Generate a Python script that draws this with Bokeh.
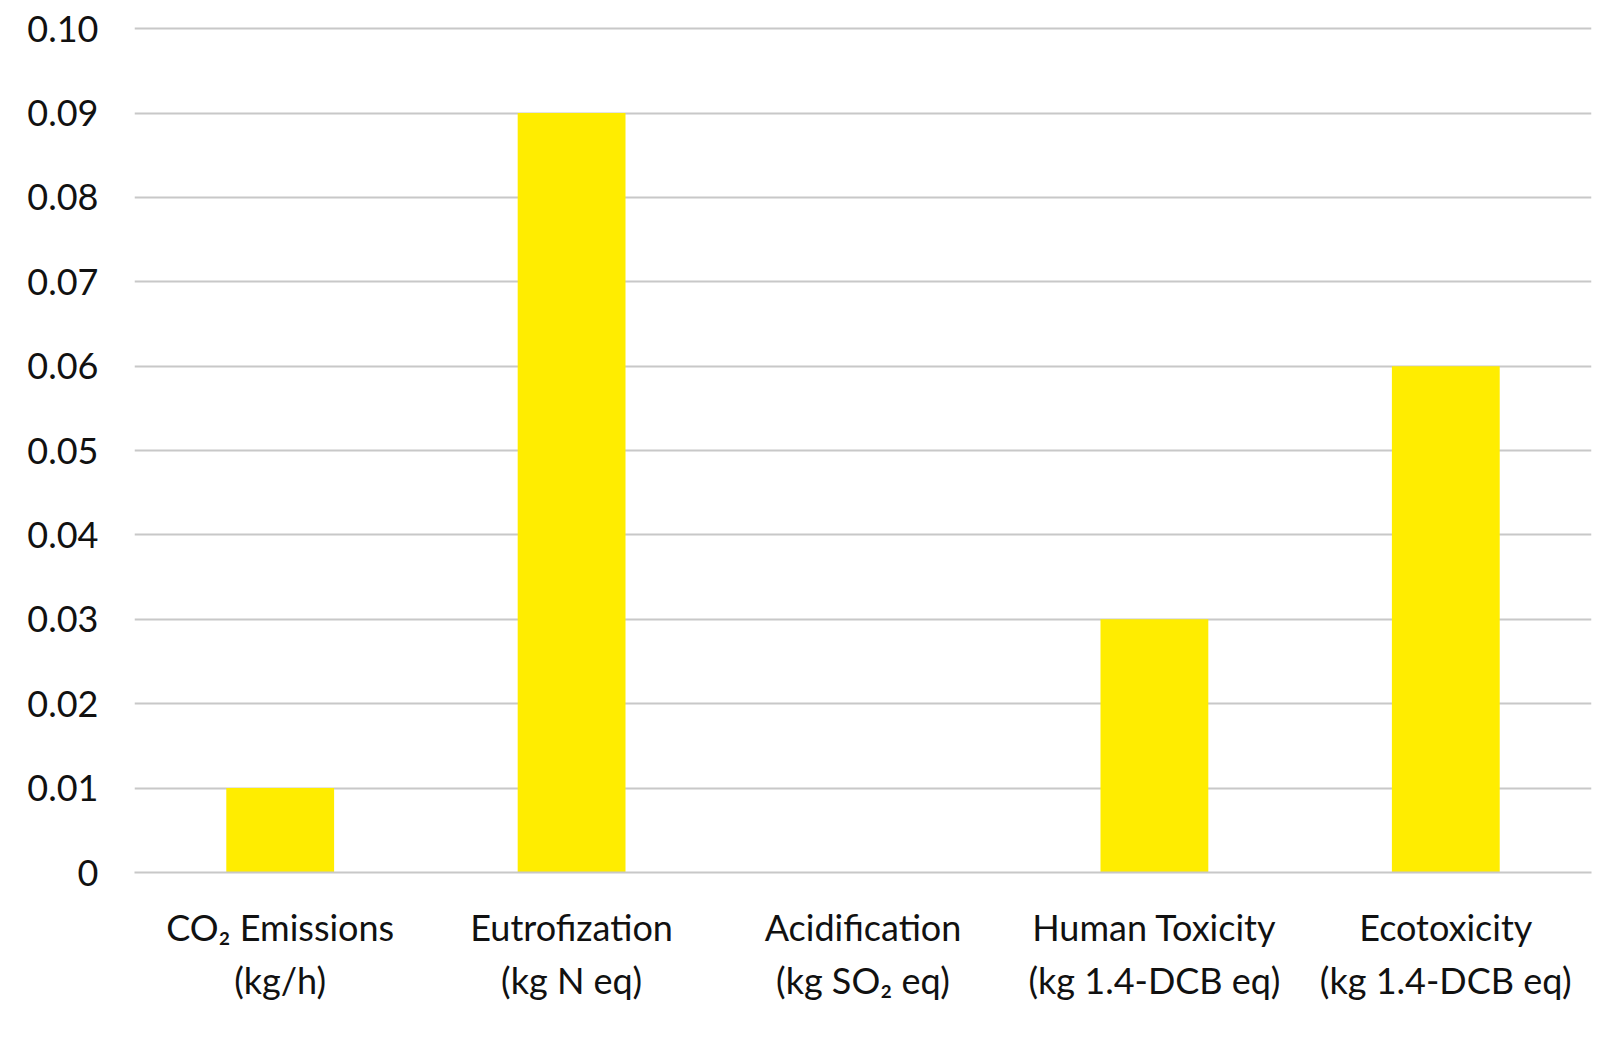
from bokeh.plotting import figure
from bokeh.models import FixedTicker, Range1d
from bokeh.embed import file_html
from bokeh.resources import INLINE

categories = ["CO₂ Emissions\n(kg/h)", "Eutrofization\n(kg N eq)", "Acidification\n(kg SO₂ eq)",
              "Human Toxicity\n(kg 1.4-DCB eq)", "Ecotoxicity\n(kg 1.4-DCB eq)"]
values = [0.01, 0.09, 0.0, 0.03, 0.06]
y_ticks = [0, 0.01, 0.02, 0.03, 0.04, 0.05, 0.06, 0.07, 0.08, 0.09, 0.10]
y_tick_labels = ["0", "0.01", "0.02", "0.03", "0.04", "0.05", "0.06", "0.07", "0.08", "0.09", "0.10"]

p = figure(x_range=categories, width=1595, height=1039, output_backend="svg",
           toolbar_location=None, min_border_left=134, min_border_right=4,
           min_border_top=24, min_border_bottom=167)
p.y_range = Range1d(0, 0.1005)
p.vbar(x=categories, top=values, width=0.37, color="#FFED00", line_color=None)

p.outline_line_color = None
p.xgrid.grid_line_color = None
p.ygrid.grid_line_color = "#C8C8C8"
p.ygrid.grid_line_width = 2
p.yaxis.ticker = FixedTicker(ticks=y_ticks)
p.yaxis.major_label_overrides = {t: l for t, l in zip(y_ticks, y_tick_labels)}
p.yaxis.axis_line_color = None
p.yaxis.major_tick_line_color = None
p.yaxis.minor_tick_line_color = None
p.yaxis.major_label_text_font = "Lato"
p.yaxis.major_label_text_font_size = "36px"
p.yaxis.major_label_text_color = "#111111"
p.yaxis.major_label_standoff = 30

p.xaxis.axis_line_color = "#C8C8C8"
p.xaxis.axis_line_width = 2
p.xaxis.major_tick_line_color = None
p.xaxis.minor_tick_line_color = None
p.xaxis.major_label_text_font = "Lato"
p.xaxis.major_label_text_font_size = "36px"
p.xaxis.major_label_text_color = "#111111"
p.xaxis.major_label_standoff = 26
p.xaxis.major_label_text_line_height = 1.22

open("out.html", "w").write(file_html(p, INLINE))
